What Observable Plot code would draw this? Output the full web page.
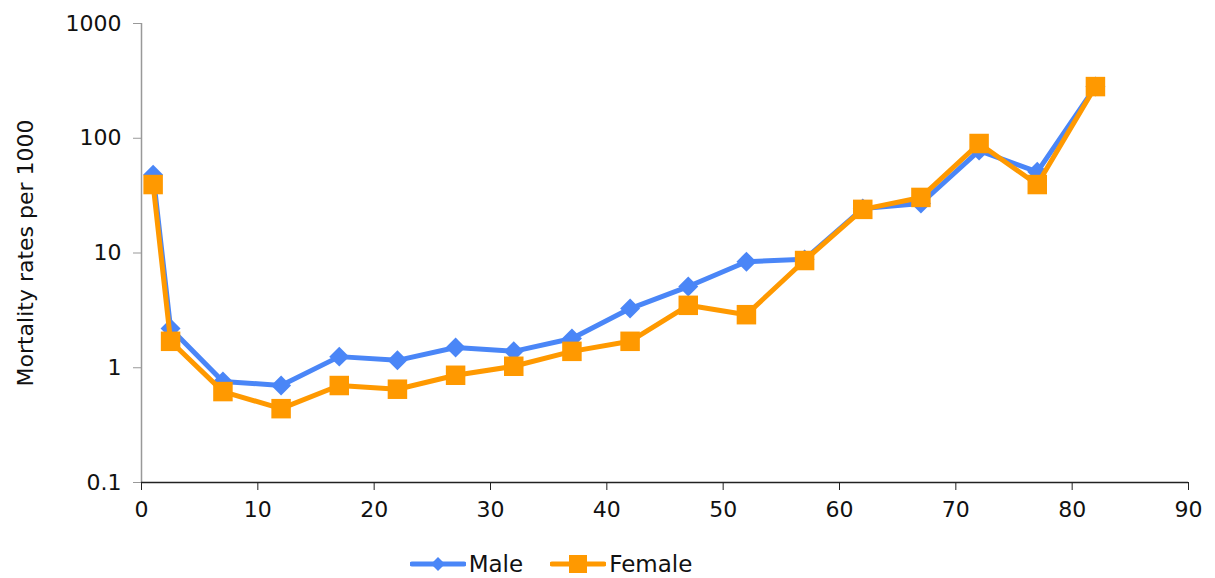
<!DOCTYPE html>
<html>
<head>
<meta charset="utf-8">
<script src="https://cdn.jsdelivr.net/npm/d3@7"></script>
<script src="https://cdn.jsdelivr.net/npm/@observablehq/plot@0.6"></script>
<style>
  html, body { margin: 0; padding: 0; background: #fff; }
  body { width: 1215px; height: 578px; overflow: hidden; font-family: "DejaVu Sans", sans-serif; }
  #chart svg { display: block; }
  #legend { display: flex; justify-content: center; gap: 27px; margin-left: -113px; margin-top: 25px; font-size: 23px; line-height: 26px; color: #111; }
  .item { display: flex; align-items: center; gap: 3px; }
</style>
</head>
<body>
<div id="chart"></div>
<div id="legend"></div>
<script>
const ages = [1, 2.5, 7, 12, 17, 22, 27, 32, 37, 42, 47, 52, 57, 62, 67, 72, 77, 82];
const male = [48, 2.2, 0.76, 0.70, 1.25, 1.16, 1.5, 1.39, 1.8, 3.28, 5.1, 8.4, 8.8, 24.4, 27, 78, 51, 282];
const female = [39.5, 1.7, 0.62, 0.44, 0.70, 0.65, 0.86, 1.03, 1.39, 1.7, 3.5, 2.9, 8.6, 24, 30.5, 90, 39.5, 282];
const seriesNames = ["Male", "Female"];
const colors = ["#4A86F7", "#FF9900"];
const xTicks = [0, 10, 20, 30, 40, 50, 60, 70, 80, 90];
const yTicks = [0.1, 1, 10, 100, 1000];
const yTickLabels = ["0.1", "1", "10", "100", "1000"];
const yLabel = "Mortality rates per 1000";

const maleData = ages.map((a, i) => ({age: a, rate: male[i]}));
const femaleData = ages.map((a, i) => ({age: a, rate: female[i]}));

const plot = Plot.plot({
  width: 1215,
  height: 526,
  marginLeft: 141,
  marginRight: 27,
  marginTop: 23,
  marginBottom: 44,
  style: { fontFamily: "DejaVu Sans, sans-serif", fontSize: "21px", color: "#111", background: "#fff" },
  x: { domain: [0, 90], ticks: xTicks, tickSize: 8, tickPadding: 6, label: null },
  y: { type: "log", domain: [0.1, 1000], ticks: yTicks, tickFormat: (d) => yTickLabels[yTicks.indexOf(d)], tickSize: 8, tickPadding: 10, label: null },
  marks: [
    Plot.ruleX([0], { stroke: "#999", strokeWidth: 1.5 }),
    Plot.axisY({ ticks: yTicks, tickFormat: (d) => yTickLabels[yTicks.indexOf(d)], tickSize: 8, tickPadding: 12, stroke: "#999", label: null, fontSize: 22 }),
    Plot.axisX({ ticks: xTicks, tickSize: 8, tickPadding: 11, stroke: "#222", label: null, fontSize: 22 }),
    Plot.ruleY([0.1], { stroke: "#222", strokeWidth: 1.5 }),
    Plot.text([yLabel], { frameAnchor: "left", textAnchor: "middle", dx: -116, rotate: -90, fontSize: 22, fill: "#111" }),
    Plot.line(maleData, { x: "age", y: "rate", stroke: colors[0], strokeWidth: 5, strokeLinejoin: "round" }),
    Plot.dot(maleData, { x: "age", y: "rate", symbol: "diamond2", r: 9, fill: colors[0], stroke: "none" }),
    Plot.line(femaleData, { x: "age", y: "rate", stroke: colors[1], strokeWidth: 5, strokeLinejoin: "round" }),
    Plot.dot(femaleData, { x: "age", y: "rate", symbol: "square", r: 11, fill: colors[1], stroke: "none" })
  ]
});
document.getElementById("chart").appendChild(plot);

const legend = document.getElementById("legend");
seriesNames.forEach((name, i) => {
  const item = document.createElement("div");
  item.className = "item";
  const marker = i === 0
    ? `<path d="M28,4 L35,11 L28,18 L21,11 Z" fill="${colors[i]}"/>`
    : `<rect x="19" y="2" width="18" height="18" fill="${colors[i]}"/>`;
  item.innerHTML = `<svg width="56" height="22"><line x1="2" y1="11" x2="54" y2="11" stroke="${colors[i]}" stroke-width="5" stroke-linecap="round"/>${marker}</svg><span>${name}</span>`;
  legend.appendChild(item);
});
</script>
</body>
</html>
